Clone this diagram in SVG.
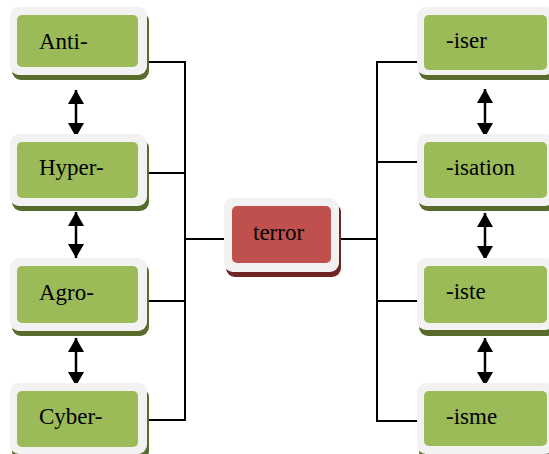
<svg xmlns="http://www.w3.org/2000/svg" width="549" height="454" viewBox="0 0 549 454">
<style>
.sh{fill:#586b2c}
.out{fill:#f2f2f2}
.in{fill:#9bbb59}
.shr{fill:#6e2523}
.inr{fill:#c0504d}
text{font-family:'Liberation Serif','Times New Roman',Times,serif;font-size:23px;fill:#000}
.c{fill:none;stroke:#000;stroke-width:2}
.a{stroke:#000;stroke-width:2.5;marker-start:url(#ah);marker-end:url(#ah)}
</style>
<defs>
<marker id="ah" viewBox="0 0 14 16" refX="14" refY="8" markerUnits="userSpaceOnUse" markerWidth="14" markerHeight="16" orient="auto-start-reverse">
<path d="M0,0 L14,8 L0,16 z" fill="#000"/>
</marker>
</defs>
<g id="connectors">
<polyline class="c" points="147,62 185,62 185,420 147,420"/>
<line class="c" x1="147" y1="173" x2="185" y2="173"/>
<line class="c" x1="147" y1="301" x2="185" y2="301"/>
<line class="c" x1="185" y1="239" x2="224" y2="239"/>
<line class="c" x1="339" y1="239" x2="377" y2="239"/>
<polyline class="c" points="417,62 377,62 377,421 417,421"/>
<line class="c" x1="377" y1="162" x2="417" y2="162"/>
<line class="c" x1="377" y1="301" x2="417" y2="301"/>
<line class="a" x1="76" y1="90" x2="76" y2="137"/>
<line class="a" x1="76" y1="212" x2="76" y2="258"/>
<line class="a" x1="76" y1="338" x2="76" y2="386"/>
<line class="a" x1="485" y1="89" x2="485" y2="137"/>
<line class="a" x1="485" y1="213" x2="485" y2="260"/>
<line class="a" x1="485" y1="338" x2="485" y2="386"/>
</g>
<g id="anti">
<rect class="sh" x="12" y="12" width="137" height="68" rx="9"/>
<rect class="out" x="10" y="7" width="137" height="68" rx="9"/>
<rect class="in" x="17" y="15" width="121" height="52" rx="5"/>
<text x="39" y="49" font-family="Liberation Serif, serif">Anti-</text>
</g>
<g id="hyper">
<rect class="sh" x="12" y="139" width="137" height="72" rx="9"/>
<rect class="out" x="10" y="134" width="137" height="72" rx="9"/>
<rect class="in" x="17" y="142" width="121" height="56" rx="5"/>
<text x="39" y="175" font-family="Liberation Serif, serif">Hyper-</text>
</g>
<g id="agro">
<rect class="sh" x="12" y="263" width="137" height="73" rx="9"/>
<rect class="out" x="10" y="258" width="137" height="73" rx="9"/>
<rect class="in" x="17" y="266" width="121" height="57" rx="5"/>
<text x="39" y="300" font-family="Liberation Serif, serif">Agro-</text>
</g>
<g id="cyber">
<rect class="sh" x="12" y="388" width="137" height="72" rx="9"/>
<rect class="out" x="10" y="383" width="137" height="71" rx="9"/>
<rect class="in" x="17" y="391" width="121" height="56" rx="5"/>
<text x="39" y="424" font-family="Liberation Serif, serif">Cyber-</text>
</g>
<g id="terror">
<rect class="shr" x="226" y="203" width="115" height="74" rx="9"/>
<rect class="out" x="224" y="198" width="115" height="74" rx="9"/>
<rect class="inr" x="232" y="206" width="99" height="57" rx="5"/>
<text x="253" y="240" font-family="Liberation Serif, serif">terror</text>
</g>
<g id="iser">
<rect class="sh" x="419" y="12" width="137" height="68" rx="9"/>
<rect class="out" x="417" y="7" width="137" height="68" rx="9"/>
<rect class="in" x="424" y="15" width="123" height="55" rx="5"/>
<text x="446" y="48" font-family="Liberation Serif, serif">-iser</text>
</g>
<g id="isation">
<rect class="sh" x="419" y="139" width="137" height="72" rx="9"/>
<rect class="out" x="417" y="134" width="137" height="72" rx="9"/>
<rect class="in" x="424" y="142" width="123" height="56" rx="5"/>
<text x="446" y="175" font-family="Liberation Serif, serif">-isation</text>
</g>
<g id="iste">
<rect class="sh" x="419" y="263" width="137" height="73" rx="9"/>
<rect class="out" x="417" y="258" width="137" height="72" rx="9"/>
<rect class="in" x="424" y="266" width="123" height="57" rx="5"/>
<text x="446" y="299" font-family="Liberation Serif, serif">-iste</text>
</g>
<g id="isme">
<rect class="sh" x="419" y="388" width="137" height="72" rx="9"/>
<rect class="out" x="417" y="383" width="137" height="71" rx="9"/>
<rect class="in" x="424" y="391" width="123" height="55" rx="5"/>
<text x="446" y="424" font-family="Liberation Serif, serif">-isme</text>
</g>
</svg>
